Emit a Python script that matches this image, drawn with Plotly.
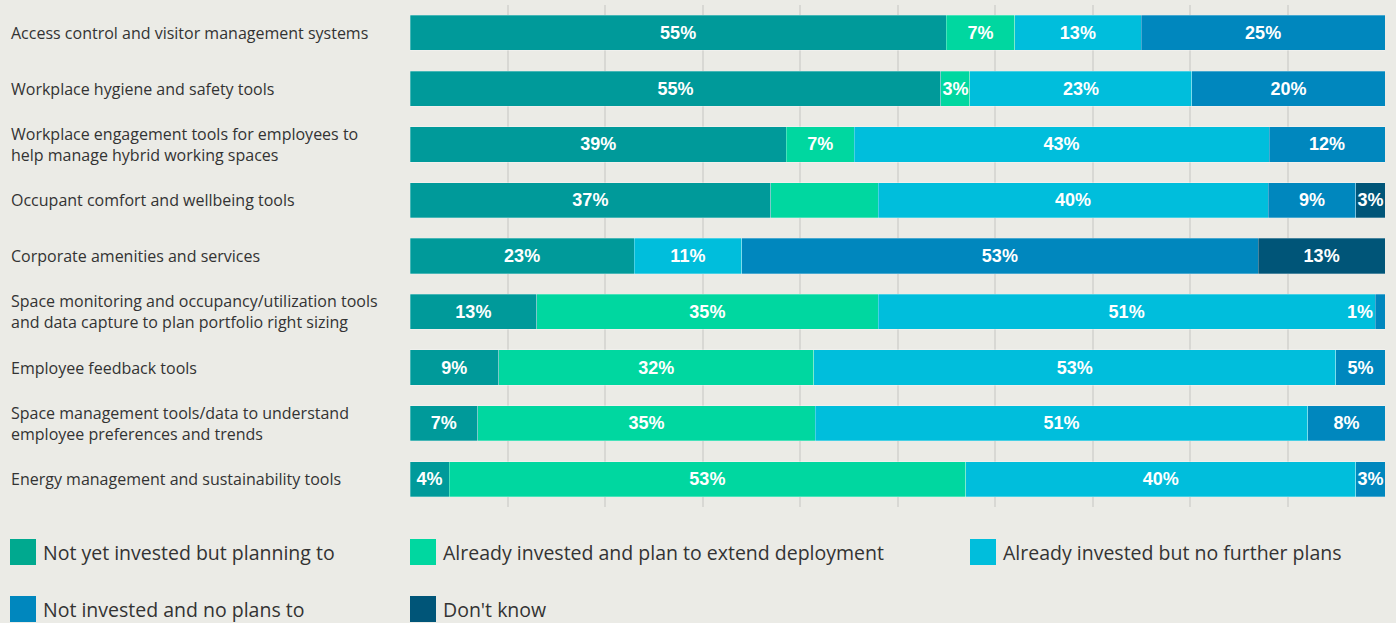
import plotly.graph_objects as go

categories = [
    "Access control and visitor management systems",
    "Workplace hygiene and safety tools",
    "Workplace engagement tools for employees to<br>help manage hybrid working spaces",
    "Occupant comfort and wellbeing tools",
    "Corporate amenities and services",
    "Space monitoring and occupancy/utilization tools<br>and data capture to plan portfolio right sizing",
    "Employee feedback tools",
    "Space management tools/data to understand<br>employee preferences and trends",
    "Energy management and sustainability tools",
]

series_names = [
    "Not yet invested but planning to",
    "Already invested and plan to extend deployment",
    "Already invested but no further plans",
    "Not invested and no plans to",
    "Don't know",
]

not_yet_planning = [55, 55, 39, 37, 23, 13, 9, 7, 4]
invested_extend = [7, 3, 7, 11, 0, 35, 32, 35, 53]
invested_no_plans = [13, 23, 43, 40, 11, 51, 53, 51, 40]
not_invested_no_plans = [25, 20, 12, 9, 53, 1, 5, 8, 3]
dont_know = [0, 0, 0, 3, 13, 0, 0, 0, 0]

# (series index, category index) of segments that carry no label in the original
hidden_labels = [(1, 3)]
# (series index, category index) of segments too narrow: label sits just left of the segment
shifted_labels = [(3, 5)]

series_values = [not_yet_planning, invested_extend, invested_no_plans,
                 not_invested_no_plans, dont_know]
bar_colors = ["#009a9a", "#00d7a0", "#00bedc", "#0087be", "#005578"]
legend_colors = ["#00a98f", "#00d7a0", "#00bedc", "#0087be", "#005578"]

BG = "#ebebe6"
TEXT = "#333333"
BAR_FONT = dict(family="Liberation Sans, Arial, sans-serif", size=18, color="white", weight="bold")

fig = go.Figure()
annotations = []
for si, (name, vals, col) in enumerate(zip(series_names, series_values, bar_colors)):
    texts = []
    for ci, v in enumerate(vals):
        if v == 0 or (si, ci) in hidden_labels:
            texts.append("")
        elif (si, ci) in shifted_labels:
            texts.append("")
            total = sum(s[ci] for s in series_values)
            start = sum(series_values[k][ci] for k in range(si)) / total * 100
            annotations.append(dict(
                x=start, xref="x", y=categories[ci], yref="y", text=f"{v}%",
                xanchor="right", yanchor="middle", showarrow=False, font=BAR_FONT,
            ))
        else:
            texts.append(f"{v}%")
    fig.add_trace(go.Bar(
        name=name, y=categories, x=vals, orientation="h",
        marker=dict(color=col, line=dict(color="rgba(255,255,255,0.35)", width=0.8)),
        text=texts, textposition="inside", insidetextanchor="middle",
        textangle=0, constraintext="none",
        textfont=BAR_FONT,
        width=0.63, showlegend=False, hoverinfo="skip",
    ))

L, R, T, B = 410, 11, 5, 116
W, H = 1396, 623
pw = W - L - R
ph = H - T - B

for c in categories:
    annotations.append(dict(
        x=-(L - 9) / pw, xref="paper", y=c, yref="y", text=c,
        xanchor="left", yanchor="middle", align="left", showarrow=False,
        font=dict(family="Open Sans, sans-serif", size=16, color=TEXT),
    ))

# custom legend (large square swatches)
shapes = []
legend_pos = [(10, 552), (410, 552), (970, 552), (10, 609), (410, 609)]
sq = 26
for (px, py), name, col in zip(legend_pos, series_names, legend_colors):
    x0 = (px - L) / pw
    x1 = (px + sq - L) / pw
    y0 = (H - B - (py + sq / 2)) / ph
    y1 = (H - B - (py - sq / 2)) / ph
    shapes.append(dict(type="rect", xref="paper", yref="paper", x0=x0, x1=x1, y0=y0, y1=y1,
                       fillcolor=col, line=dict(width=0)))
    annotations.append(dict(
        x=(px + sq + 5 - L) / pw, xref="paper", y=(H - B - py) / ph, yref="paper",
        text=name, xanchor="left", yanchor="middle", showarrow=False,
        font=dict(family="Open Sans, sans-serif", size=19.5, color=TEXT),
    ))

fig.update_layout(
    width=W, height=H,
    margin=dict(l=L, r=R, t=T, b=B, pad=0),
    barmode="stack", barnorm="percent",
    paper_bgcolor=BG, plot_bgcolor=BG,
    xaxis=dict(range=[0, 100], dtick=10, showgrid=True, gridcolor="#d8d8d4", gridwidth=1.5,
               showticklabels=False, zeroline=False, showline=False, fixedrange=True),
    yaxis=dict(autorange="reversed", showticklabels=False, showgrid=False, zeroline=False,
               showline=False, fixedrange=True),
    uniformtext=dict(minsize=18, mode="show"),
    shapes=shapes, annotations=annotations,
    showlegend=False,
)

fig.write_html(
    "out.html",
    config={"displayModeBar": False},
    post_script="document.body.style.margin='0';document.body.style.background='" + BG + "';",
)
